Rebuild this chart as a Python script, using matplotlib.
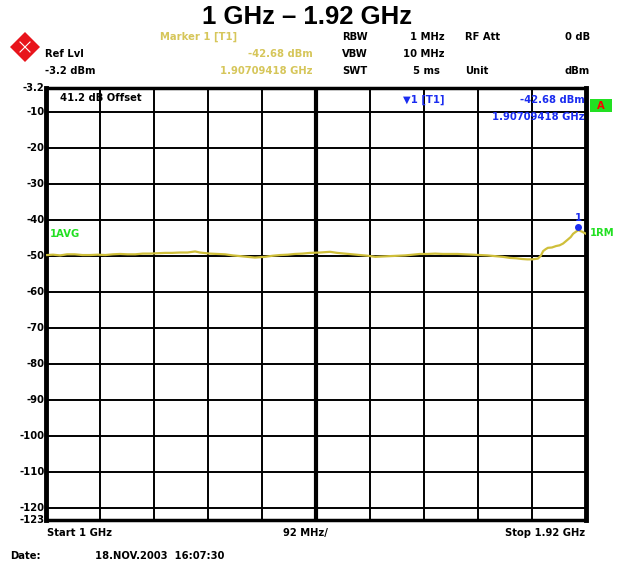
import matplotlib.pyplot as plt
from matplotlib.patches import Polygon, Rectangle
from matplotlib.lines import Line2D

# trace (frequency in GHz, level in dBm)
freq_ghz = [1.002, 1.012, 1.024, 1.036, 1.049, 1.062, 1.075, 1.088, 1.101, 1.114,
            1.126, 1.139, 1.152, 1.165, 1.177, 1.190, 1.203, 1.215, 1.228, 1.241,
            1.254, 1.262, 1.279, 1.292, 1.305, 1.318, 1.331, 1.343, 1.356, 1.373,
            1.386, 1.399, 1.412, 1.424, 1.437, 1.450, 1.467, 1.484, 1.496, 1.509,
            1.522, 1.535, 1.548, 1.561, 1.573, 1.586, 1.599, 1.612, 1.625, 1.637,
            1.650, 1.663, 1.676, 1.688, 1.701, 1.714, 1.727, 1.739, 1.752, 1.765,
            1.778, 1.791, 1.801, 1.811, 1.820, 1.828, 1.838, 1.843, 1.847, 1.851,
            1.855, 1.862, 1.869, 1.875, 1.881, 1.889, 1.894, 1.898, 1.903, 1.907,
            1.913, 1.920]
level_dbm = [-49.6, -49.5, -49.7, -49.4, -49.4, -49.6, -49.6, -49.5, -49.6, -49.4,
             -49.3, -49.4, -49.4, -49.2, -49.2, -49.1, -49.0, -49.0, -48.9, -48.9,
             -48.6, -48.9, -49.2, -49.3, -49.4, -49.7, -49.9, -50.1, -50.3, -50.1,
             -49.8, -49.6, -49.5, -49.3, -49.2, -49.0, -48.9, -48.7, -49.0, -49.2,
             -49.4, -49.6, -49.8, -50.1, -50.0, -49.9, -49.8, -49.7, -49.5, -49.3,
             -49.3, -49.2, -49.3, -49.3, -49.3, -49.4, -49.5, -49.6, -49.7, -49.9,
             -50.1, -50.4, -50.5, -50.7, -50.8, -50.8, -50.6, -49.8, -48.5, -48.0,
             -47.6, -47.5, -47.1, -46.9, -46.4, -45.3, -44.6, -43.7, -43.1, -42.7,
             -43.1, -43.7]
y_ticks = [-10, -20, -30, -40, -50, -60, -70, -80, -90, -100, -110, -120]
f_start, f_stop = 1.0, 1.92
ref_lvl, y_bottom = -3.2, -123.2
marker_f, marker_lvl = 1.90709418, -42.68

W, H = 617, 566
yellow = "#cfbf3a"
hdr_yellow = "#d6c65a"
blue = "#1a2cf0"
green = "#22e022"
fs = 7.2
mono = dict(family="DejaVu Sans", fontweight="bold", fontsize=fs)

fig = plt.figure(figsize=(W / 100, H / 100), dpi=100)


def fx(px):
    return px / W


def fy(py):
    return 1 - py / H


ax = fig.add_axes([fx(46), fy(520), (586 - 46) / W, (520 - 88) / H])
ax.set_xlim(f_start, f_stop)
ax.set_ylim(y_bottom, ref_lvl)

step = (f_stop - f_start) / 10
ax.set_xticks([f_start + i * step for i in range(1, 10)])
ax.set_xticklabels([])
ax.set_yticks(y_ticks)
ax.set_yticklabels([])
ax.tick_params(length=0)
ax.grid(True, color="black", linewidth=1.4)
ax.axvline(f_start + 5 * step, color="black", linewidth=3)
for side in ["left", "right"]:
    ax.spines[side].set_linewidth(3.5)
for side in ["top", "bottom"]:
    ax.spines[side].set_linewidth(2.5)

ax.plot(freq_ghz, level_dbm, color=yellow, linewidth=1.6, zorder=3)
ax.plot([marker_f], [marker_lvl + 0.8], marker="o", color=blue, markersize=4, zorder=4)
ax.text(marker_f, marker_lvl + 2.0, "1", color=blue, ha="center", va="bottom", **mono)

# y labels on the left
ylab_tr = ax.get_yaxis_transform()
for v in y_ticks:
    ax.text(-0.003, v, str(v), transform=ylab_tr, ha="right", va="center", **mono)
ax.text(-0.003, ref_lvl, "-3.2", transform=ylab_tr, ha="right", va="center", **mono)
ax.text(-0.003, -123.2, "-123", transform=ylab_tr, ha="right", va="center", **mono)

# texts inside the grid
fig.text(fx(60), fy(98), "41.2 dB Offset", ha="left", va="center", **mono)
fig.text(fx(403), fy(100), "\u25bc1 [T1]", ha="left", va="center", color=blue, **mono)
fig.text(fx(585), fy(100), "-42.68 dBm", ha="right", va="center", color=blue, **mono)
fig.text(fx(585), fy(117), "1.90709418 GHz", ha="right", va="center", color=blue, **mono)
fig.text(fx(50), fy(234), "1AVG", ha="left", va="center", color=green, **mono)
fig.text(fx(590), fy(233), "1RM", ha="left", va="center", color=green, **mono)
fig.patches.append(Rectangle((fx(590), fy(112)), fx(22), fy(99) - fy(112),
                             transform=fig.transFigure, facecolor=green,
                             edgecolor="none"))
fig.text(fx(601), fy(106), "A", ha="center", va="center", color="red", **mono)

# title and header block
fig.text(fx(307), fy(17), "1 GHz \u2013 1.92 GHz", ha="center", va="center",
         family="Liberation Sans", fontweight="bold", fontsize=18.5)
rows = [fy(37), fy(54), fy(71)]
fig.text(fx(160), rows[0], "Marker 1 [T1]", ha="left", va="center", color=hdr_yellow, **mono)
fig.text(fx(313), rows[1], "-42.68 dBm", ha="right", va="center", color=hdr_yellow, **mono)
fig.text(fx(313), rows[2], "1.90709418 GHz", ha="right", va="center", color=hdr_yellow, **mono)
fig.text(fx(45), rows[1], "Ref Lvl", ha="left", va="center", **mono)
fig.text(fx(45), rows[2], "-3.2 dBm", ha="left", va="center", **mono)
fig.text(fx(342), rows[0], "RBW", ha="left", va="center", **mono)
fig.text(fx(342), rows[1], "VBW", ha="left", va="center", **mono)
fig.text(fx(342), rows[2], "SWT", ha="left", va="center", **mono)
fig.text(fx(445), rows[0], "1 MHz", ha="right", va="center", **mono)
fig.text(fx(445), rows[1], "10 MHz", ha="right", va="center", **mono)
fig.text(fx(440), rows[2], "5 ms", ha="right", va="center", **mono)
fig.text(fx(465), rows[0], "RF Att", ha="left", va="center", **mono)
fig.text(fx(465), rows[2], "Unit", ha="left", va="center", **mono)
fig.text(fx(590), rows[0], "0 dB", ha="right", va="center", **mono)
fig.text(fx(590), rows[2], "dBm", ha="right", va="center", **mono)

# R&S style logo
cx, cy, r = 25, 47, 15
fig.patches.append(Polygon([(fx(cx - r), fy(cy)), (fx(cx), fy(cy - r)),
                            (fx(cx + r), fy(cy)), (fx(cx), fy(cy + r))],
                           closed=True, transform=fig.transFigure,
                           facecolor="#e8141c", edgecolor="none"))
for (x0, y0, x1, y1) in [(cx - 5, cy - 5, cx + 5, cy + 5),
                         (cx - 5, cy + 5, cx + 5, cy - 5)]:
    fig.lines.append(Line2D([fx(x0), fx(x1)], [fy(y0), fy(y1)],
                            transform=fig.transFigure, color="white", linewidth=0.8))

# bottom texts
fig.text(fx(47), fy(533), "Start 1 GHz", ha="left", va="center", **mono)
fig.text(fx(305), fy(533), "92 MHz/", ha="center", va="center", **mono)
fig.text(fx(585), fy(533), "Stop 1.92 GHz", ha="right", va="center", **mono)
fig.text(fx(10), fy(556), "Date:", ha="left", va="center", **mono)
fig.text(fx(95), fy(556), "18.NOV.2003  16:07:30", ha="left", va="center", **mono)

fig.savefig("out.png", dpi=100)
